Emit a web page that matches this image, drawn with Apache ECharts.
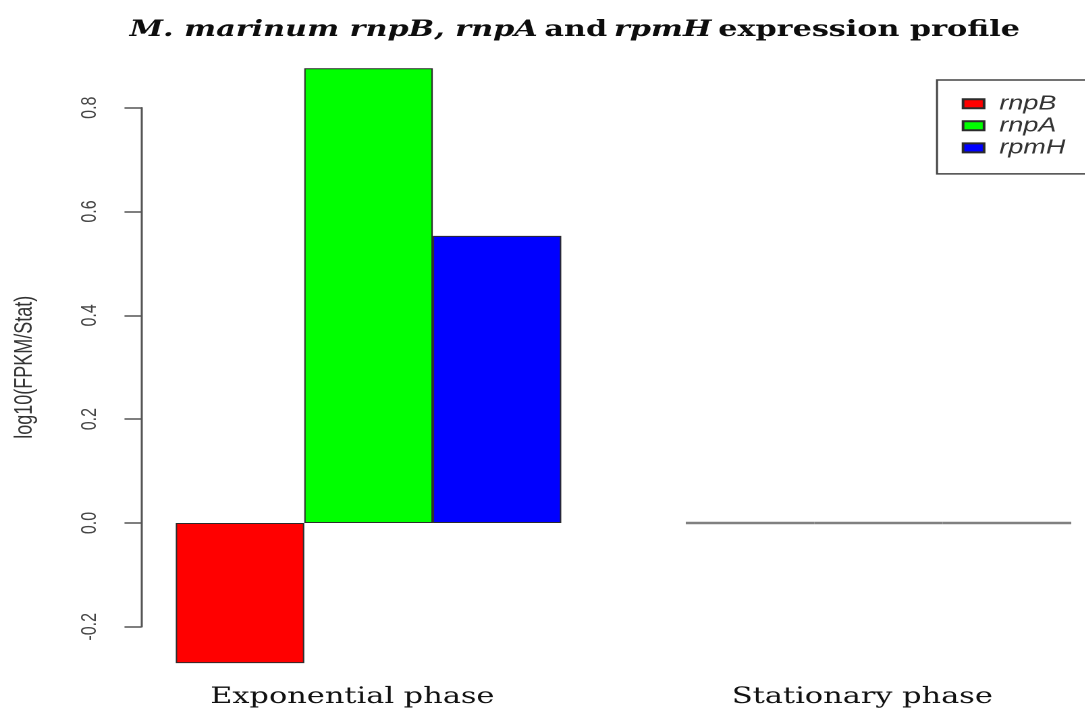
<!DOCTYPE html>
<html>
<head>
<meta charset="utf-8">
<script src="https://cdn.jsdelivr.net/npm/echarts@6/dist/echarts.min.js"></script>
<style>
  html, body { margin: 0; padding: 0; background: #ffffff; overflow: hidden; width: 1085px; height: 711px; }
  #chart { position: absolute; left: 0; top: 0; height: 711px; transform-origin: 0 0; }
</style>
</head>
<body>
<div id="chart"></div>
<script>
// Expression data: log10(FPKM ratio) per growth phase
const phases = ['Exponential phase', 'Stationary phase'];
const genes = ['rnpB', 'rnpA', 'rpmH'];
const rnpB = [-0.270, 0];
const rnpA = [0.876, 0];
const rpmH = [0.553, 0];
const geneColors = ['#ff0000', '#00ff00', '#0000ff'];
const yMin = -0.2, yMax = 0.8, yStep = 0.2;

// The plot is laid out on a narrower canvas and widened horizontally,
// giving the broad lettering of the original R device output.
// The canvas runs past the right edge of the window, as the legend box does.
const stretch = 1.35;
const W = 900;
const px = v => v / stretch;

const el = document.getElementById('chart');
el.style.width = W + 'px';
el.style.transform = 'scaleX(' + stretch + ')';

const chart = echarts.init(el, null, { renderer: 'canvas', devicePixelRatio: 2 });

const seriesValues = [rnpB, rnpA, rpmH];

// Zero-height bars collapse to a flat outline along the baseline
const barItems = (vals, color) => vals.map(v => v === 0
  ? { value: v, itemStyle: { color: color, borderColor: '#808080', borderWidth: 2.5 } }
  : v);

chart.setOption({
  animation: false,
  backgroundColor: '#ffffff',
  title: {
    left: px(568),
    top: 14,
    textAlign: 'center',
    text: '{bi|M. marinum rnpB, rnpA} {b|and} {bi|rpmH} {b|expression profile}',
    textStyle: {
      rich: {
        bi: { fontFamily: 'DejaVu Serif', fontWeight: 'bold', fontStyle: 'italic', fontSize: 22.4, color: '#0d0d0d' },
        b: { fontFamily: 'DejaVu Serif', fontWeight: 'bold', fontSize: 22.4, color: '#0d0d0d' }
      }
    }
  },
  legend: {
    orient: 'vertical',
    left: px(937),
    top: 80,
    data: genes,
    icon: 'rect',
    itemWidth: px(21),
    itemHeight: 9,
    itemGap: 2.1,
    padding: [13.7, 40, 16, px(24.7)],
    borderColor: '#444',
    borderWidth: 1.5,
    textStyle: {
      fontFamily: 'Liberation Sans',
      fontStyle: 'italic',
      fontSize: 20,
      lineHeight: 18,
      color: '#333',
      padding: [0, 0, 0, px(15.3) - 5]
    }
  },
  grid: {
    left: px(113.5),
    top: 107.7,
    width: px(1020),
    height: 519.1
  },
  xAxis: {
    type: 'category',
    data: phases,
    axisLine: { show: false, onZero: false },
    axisTick: { show: false },
    axisLabel: {
      margin: 60,
      fontFamily: 'DejaVu Serif',
      fontSize: 22.5,
      lineHeight: 21,
      color: '#111',
      padding: [0, 24, 0, 0]
    },
    splitLine: { show: false }
  },
  yAxis: {
    type: 'value',
    min: yMin,
    max: yMax,
    interval: yStep,
    position: 'left',
    offset: -px(28),
    name: 'log10(FPKM/Stat)',
    nameLocation: 'middle',
    nameGap: px(104),
    nameTextStyle: { fontFamily: 'Liberation Sans', fontSize: 18, color: '#333' },
    axisLine: { show: true, lineStyle: { color: '#555', width: 1.5 } },
    axisTick: { show: true, length: px(17), lineStyle: { color: '#555', width: 1.5 } },
    axisLabel: {
      rotate: 90,
      margin: px(41),
      fontFamily: 'Liberation Sans',
      fontSize: 16,
      color: '#444',
      formatter: v => v.toFixed(1)
    },
    splitLine: { show: false }
  },
  series: genes.map((g, i) => ({
    name: g,
    type: 'bar',
    data: barItems(seriesValues[i], geneColors[i]),
    barWidth: px(128.5),
    barGap: '0%',
    clip: false,
    itemStyle: { color: geneColors[i], borderColor: '#2b2b2b', borderWidth: 1 },
    emphasis: { disabled: true }
  }))
});
</script>
</body>
</html>
